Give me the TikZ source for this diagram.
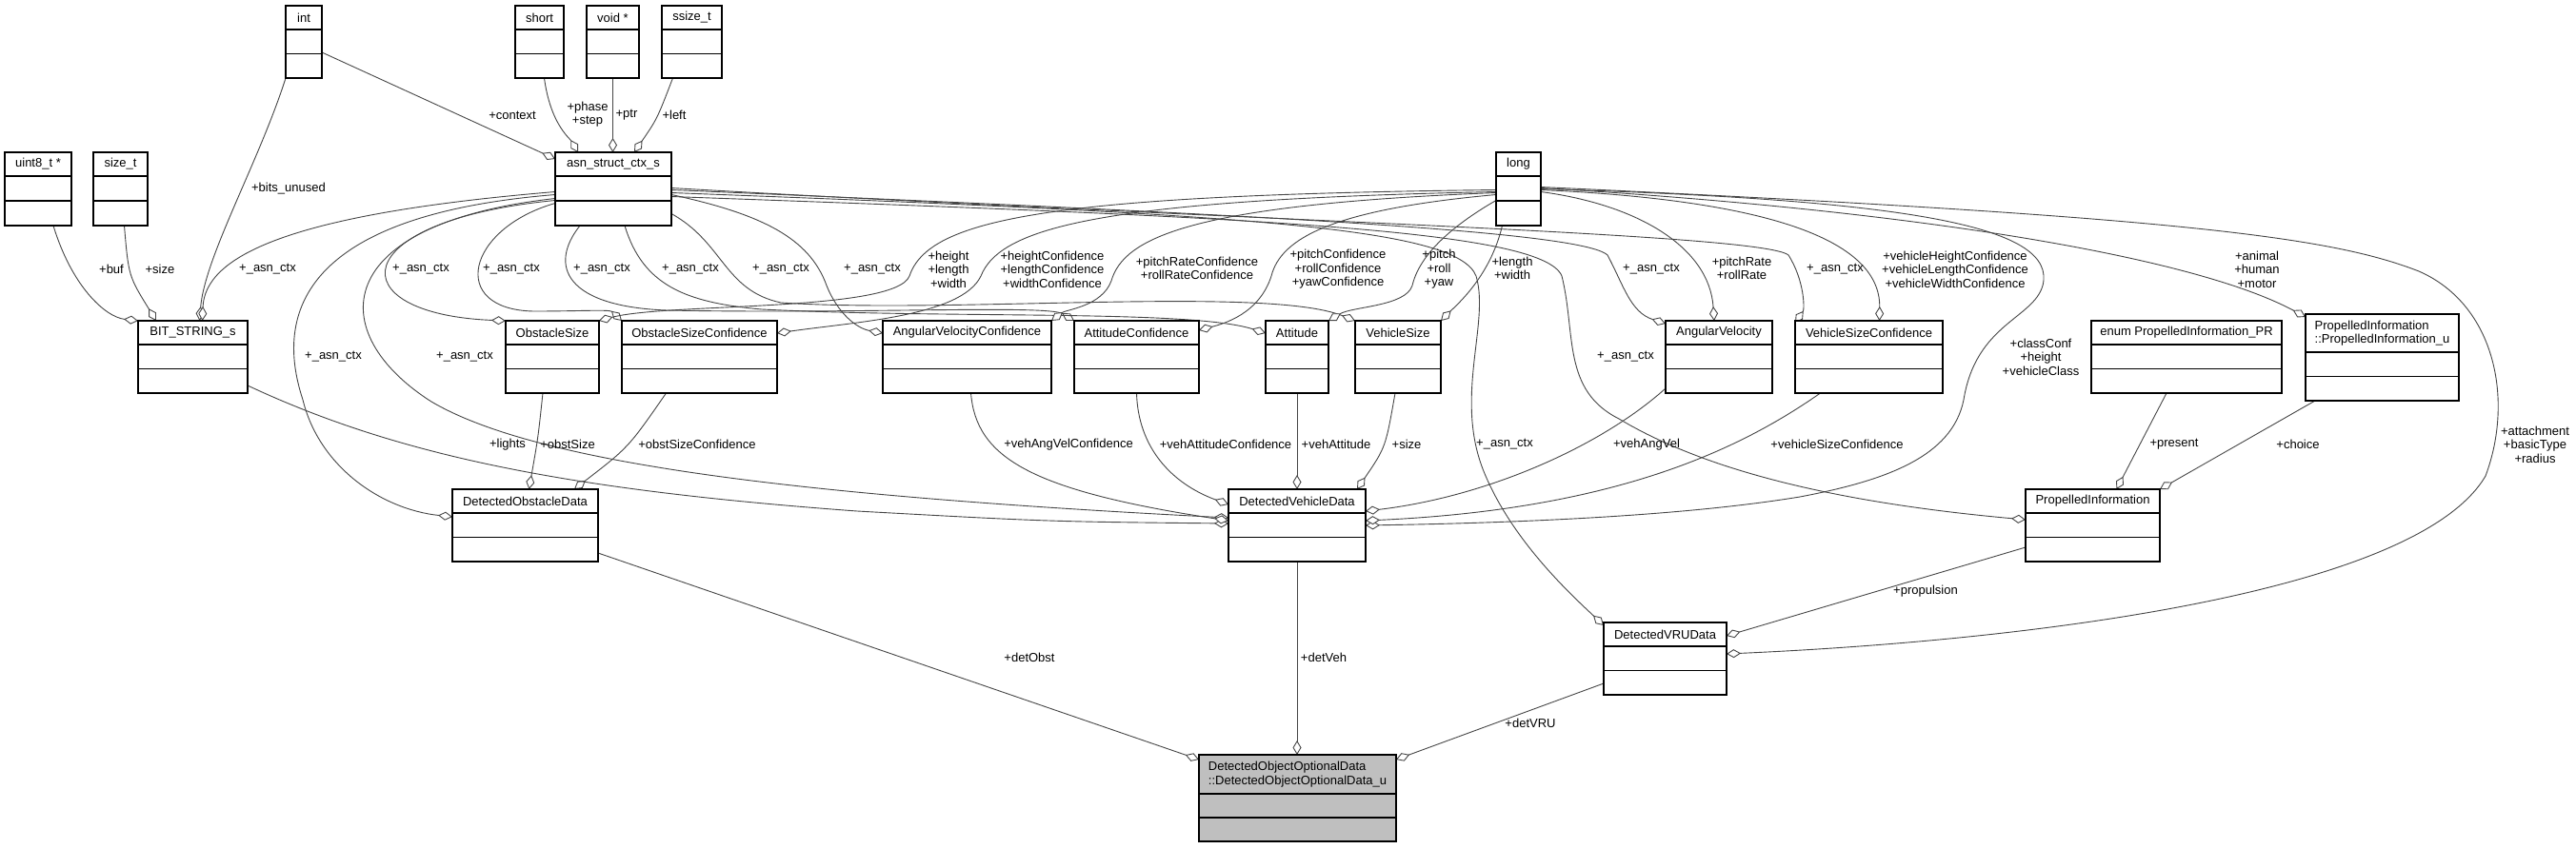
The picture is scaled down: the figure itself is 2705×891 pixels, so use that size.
\documentclass[tikz,border=0pt]{standalone}
\usepackage{fontspec}
\setmainfont{Liberation Sans}
\usetikzlibrary{arrows.meta,calc,backgrounds}

\tikzset{
  classframe/.style={draw=black, line width=1.1pt, fill=white, inner sep=0pt, outer sep=0pt},
  classrule/.style={draw=black, line width=1.1pt},
  classtitle/.style={font=\fontsize{13}{14.5}\selectfont, inner sep=0pt, align=left},
  member/.style={draw=black!72, line width=0.9pt, -{Diamond[fill=white,length=15pt,width=9pt]}},
  lbl/.style={font=\fontsize{13}{14.5}\selectfont, inner sep=0pt, align=center}
}

% class box: [fill] name, x1, y1, x2, y2, title height, title
\newcommand{\umlclass}[8][]{%
  \node[classframe,#1,minimum width={#5-#3},minimum height={#6-#4}] (#2) at ({(#3+#5)/2},{(#4+#6)/2}) {};
  \draw[classrule] (#3,{#4+#7}) -- (#5,{#4+#7});
  \draw[classrule] (#3,{(#4+#7+#6)/2}) -- (#5,{(#4+#7+#6)/2});
  \node[classtitle] (#2-title) at ({(#3+#5)/2},{#4+#7/2}) {#8};
}

\begin{document}
\begin{tikzpicture}[x=1pt,y=-1pt]
    \useasboundingbox (0,0) rectangle (2705,891);

    \umlclass{tint}{300}{6}{338}{82}{25}{int}
    \umlclass{tshort}{541}{6}{592}{82}{25}{short}
    \umlclass{tvoid}{616}{6}{671}{82}{25}{void *}
    \umlclass{tssize}{695}{6}{758}{82}{25}{ssize\_t}
    \umlclass{tuint8}{5}{160}{75}{237}{25}{uint8\_t *}
    \umlclass{tsizet}{98}{160}{155}{237}{25}{size\_t}
    \umlclass{asn}{583}{160}{705}{237}{25}{asn\_struct\_ctx\_s}
    \umlclass{tlong}{1571}{160}{1618}{237}{25}{long}

    \umlclass{bitstr}{145}{337}{260}{413}{25}{BIT\_STRING\_s}
    \umlclass{obsize}{531}{337}{629}{413}{25}{ObstacleSize}
    \umlclass{obsconf}{653}{337}{816}{413}{25}{ObstacleSizeConfidence}
    \umlclass{avconf}{927}{337}{1104}{413}{25}{AngularVelocityConfidence}
    \umlclass{attconf}{1128}{337}{1259}{413}{25}{AttitudeConfidence}
    \umlclass{att}{1329}{337}{1395}{413}{25}{Attitude}
    \umlclass{vsize}{1423}{337}{1513}{413}{25}{VehicleSize}
    \umlclass{angvel}{1749}{337}{1861}{413}{25}{AngularVelocity}
    \umlclass{vsconf}{1885}{337}{2040}{413}{25}{VehicleSizeConfidence}
    \umlclass{penum}{2196}{337}{2396}{413}{25}{enum PropelledInformation\_PR}
    \umlclass{pinfou}{2421}{330}{2582}{421}{40}{PropelledInformation\\::PropelledInformation\_u}

    \umlclass{dod}{475}{514}{628}{590}{25}{DetectedObstacleData}
    \umlclass{dvd}{1290}{514}{1434}{590}{25}{DetectedVehicleData}
    \umlclass{pinfo}{2127}{514}{2268}{590}{25}{PropelledInformation}
    \umlclass{dvru}{1684}{654}{1813}{730}{25}{DetectedVRUData}
    \umlclass[fill=black!25]{dood}{1259}{793}{1466}{884}{41}{DetectedObjectOptionalData\\::DetectedObjectOptionalData\_u}

    \begin{scope}[on background layer]
    \fill[white] (0,0) rectangle (2705,891);

    % members of asn_struct_ctx_s and BIT_STRING_s
    \draw[member] (tint.south west) .. controls (272,170) and (215,270) .. ($(bitstr.north)+(7,0)$);
    \draw[member] ($(tint.east)+(0,11)$) -- ($(asn.north west)+(0,7)$);
    \draw[member] ($(tshort.south)+(5,0)$) .. controls (578,130) and (598,145) .. ($(asn.north west)+(24,0)$);
    \draw[member] (tvoid.south) -- (tvoid.south |- asn.north);
    \draw[member] ($(tssize.south)+(-20,0)$) .. controls (690,125) .. ($(asn.north)+(22,0)$);
    \draw[member] ($(tuint8.south)+(16,0)$) .. controls (75,300) and (110,333) .. (bitstr.north west);
    \draw[member] ($(tsizet.south)+(4,0)$) .. controls (135,290) .. ($(bitstr.north west)+(19,0)$);

    % _asn_ctx
    \draw[member] ($(asn.west)+(0,3)$) .. controls (300,225) and (215,270) .. ($(bitstr.north)+(10,0)$);
    \draw[member] ($(asn.west)+(0,6)$) .. controls (330,225) and (285,320) .. (318,420) .. controls (335,490) and (400,535) .. ($(dod.west)+(0,-9)$);
    \draw[member] ($(asn.west)+(0,10)$) .. controls (345,235) and (340,350) .. (453,422) .. controls (560,485) and (820,520) .. ($(dvd.west)+(0,-8)$);
    \draw[member] ($(asn.west)+(0,12)$) .. controls (360,232) and (355,330) .. (obsize.north west);
    \draw[member] ($(asn.west)+(0,15)$) .. controls (490,240) and (470,325) .. (560,327) .. controls (610,327) and (640,325) .. (obsconf.north west);
    \draw[member] ($(asn.south west)+(26,0)$) .. controls (575,280) and (595,322) .. (700,326) .. controls (900,330) and (1100,320) .. (attconf.north west);
    \draw[member] ($(asn.south west)+(73,0)$) .. controls (675,300) and (720,318) .. (800,325) .. controls (1000,335) and (1250,325) .. ($(att.west)+(0,-25)$);
    \draw[member] ($(asn.east)+(0,26)$) .. controls (760,255) and (760,305) .. (820,318) .. controls (1000,330) and (1330,300) .. (vsize.north west);
    \draw[member] ($(asn.east)+(0,6)$) .. controls (800,225) and (850,250) .. (868,300) .. controls (880,330) and (900,345) .. ($(avconf.west)+(0,-25)$);
    \draw[member] ($(asn.east)+(0,1)$) .. controls (1300,225) and (1660,242) .. (1688,268) .. controls (1705,300) and (1712,328) .. ($(angvel.north west)+(0,3)$);
    \draw[member] ($(asn.east)+(0,-1)$) .. controls (1300,232) and (1850,245) .. (1878,268) .. controls (1895,295) and (1895,325) .. ($(vsconf.north west)+(0,2)$);
    \draw[member] ($(asn.east)+(0,4)$) .. controls (1300,225) and (1530,238) .. (1550,290) .. controls (1565,340) and (1525,420) .. (1560,500) .. controls (1590,570) and (1650,625) .. ($(dvru.north west)+(0,3)$);
    \draw[member] ($(asn.east)+(0,8)$) .. controls (1300,228) and (1620,240) .. (1640,290) .. controls (1655,350) and (1640,410) .. (1700,440) .. controls (1800,500) and (1950,530) .. ($(pinfo.west)+(0,-6)$);

    % members of type long
    \draw[member] ($(tlong.west)+(0,1)$) .. controls (1100,205) and (975,230) .. (955,290) .. controls (940,328) and (700,318) .. (obsize.north east);
    \draw[member] ($(tlong.west)+(0,3)$) .. controls (1150,210) and (1050,240) .. (1030,290) .. controls (1010,332) and (900,338) .. ($(obsconf.east)+(0,-25)$);
    \draw[member] ($(tlong.west)+(0,4)$) .. controls (1250,215) and (1180,250) .. (1167,295) .. controls (1157,322) and (1120,325) .. (avconf.north east);
    \draw[member] ($(tlong.west)+(0,6)$) .. controls (1400,220) and (1345,250) .. (1335,290) .. controls (1322,330) and (1285,340) .. ($(attconf.east)+(0,-28)$);
    \draw[member] ($(tlong.west)+(0,12)$) .. controls (1520,240) and (1490,270) .. (1483,300) .. controls (1476,322) and (1420,322) .. (att.north east);
    \draw[member] ($(tlong.south)+(-17,0)$) .. controls (1565,290) and (1530,320) .. (vsize.north east);
    \draw[member] ($(tlong.east)+(0,3)$) .. controls (1720,215) and (1795,260) .. ($(angvel.north west)+(51,0)$);
    \draw[member] ($(tlong.east)+(0,1)$) .. controls (1850,210) and (1975,250) .. ($(vsconf.north)+(11,0)$);
    \draw[member] (tlong.east) .. controls (2020,210) and (2160,240) .. (2145,300) .. controls (2135,335) and (2075,340) .. (2062,420) .. controls (2050,480) and (1980,505) .. (1890,522) .. controls (1750,545) and (1550,550) .. (dvd.east);
    \draw[member] ($(tlong.east)+(0,-1)$) .. controls (2000,220) and (2300,268) .. ($(pinfou.north west)+(0,3)$);
    \draw[member] ($(tlong.east)+(0,-2)$) .. controls (2300,228) and (2450,250) .. (2540,285) .. controls (2620,320) and (2640,420) .. (2610,500) .. controls (2540,620) and (2150,672) .. ($(dvru.east)+(0,-5)$);

    % second row
    \draw[member] ($(obsize.south)+(-10,0)$) .. controls (565,460) .. ($(dod.north)+(4,0)$);
    \draw[member] ($(obsconf.south)+(-35,0)$) .. controls (660,470) .. ($(dod.north east)+(-25,0)$);
    \draw[member] ($(bitstr.east)+(0,30)$) .. controls (420,480) and (600,515) .. (900,537) .. controls (1100,548) .. ($(dvd.west)+(0,-2)$);
    \draw[member] ($(avconf.south)+(4,0)$) .. controls (1025,480) and (1080,515) .. ($(dvd.west)+(0,-5)$);
    \draw[member] (attconf.south) .. controls (1195,470) and (1230,508) .. ($(dvd.north west)+(0,16)$);
    \draw[member] (att.south) -- (dvd.north);
    \draw[member] ($(vsize.south)+(-3,0)$) .. controls (1455,470) .. ($(dvd.north east)+(-9,0)$);
    \draw[member] ($(angvel.south west)+(0,-5)$) .. controls (1680,470) and (1560,522) .. ($(dvd.east)+(0,-15)$);
    \draw[member] ($(vsconf.south)+(-51,0)$) .. controls (1830,470) and (1700,535) .. ($(dvd.east)+(0,-5)$);
    \draw[member] ($(penum.south)+(-21,0)$) -- ($(pinfo.north)+(25,0)$);
    \draw[member] ($(pinfou.south west)+(10,0)$) -- (pinfo.north east);
    \draw[member] ($(pinfo.west)+(0,23)$) -- ($(dvru.east)+(0,-24)$);

    % union members
    \draw[member] ($(dod.east)+(0,29)$) -- ($(dood.north west)+(0,5)$);
    \draw[member] (dvd.south) -- (dvd.south |- dood.north);
    \draw[member] ($(dvru.west)+(0,26)$) -- ($(dood.north east)+(0,5)$);
    \end{scope}

    \node[lbl] (lbits) at (303,198) {+bits\_unused};
    \node[lbl] (lcontext) at (538,121) {+context};
    \node[lbl] (lphase) at (617,120) {+phase\\+step};
    \node[lbl] (lptr) at (658,121) {+ptr};
    \node[lbl] (lleft) at (708,121) {+left};
    \node[lbl] (lbuf) at (117,283) {+buf};
    \node[lbl] (lsize) at (168,283) {+size};

    \node[lbl] (la1) at (281,283) {+\_asn\_ctx};
    \node[lbl] (la2) at (350,375) {+\_asn\_ctx};
    \node[lbl] (la3) at (488,375) {+\_asn\_ctx};
    \node[lbl] (la4) at (442,283) {+\_asn\_ctx};
    \node[lbl] (la5) at (537,283) {+\_asn\_ctx};
    \node[lbl] (la6) at (632,283) {+\_asn\_ctx};
    \node[lbl] (la7) at (725,283) {+\_asn\_ctx};
    \node[lbl] (la8) at (820,283) {+\_asn\_ctx};
    \node[lbl] (la9) at (916,283) {+\_asn\_ctx};
    \node[lbl] (la10) at (1734,283) {+\_asn\_ctx};
    \node[lbl] (la11) at (1927,283) {+\_asn\_ctx};
    \node[lbl] (la12) at (1707,375) {+\_asn\_ctx};
    \node[lbl] (la13) at (1580,467) {+\_asn\_ctx};

    \node[lbl] (lhgt) at (996,283) {+height\\+length\\+width};
    \node[lbl] (lhgtc) at (1105,283) {+heightConfidence\\+lengthConfidence\\+widthConfidence};
    \node[lbl] (lprc) at (1257,282) {+pitchRateConfidence\\+rollRateConfidence};
    \node[lbl] (lpc) at (1405,283) {+pitchConfidence\\+rollConfidence\\+yawConfidence};
    \node[lbl] (lpry) at (1511,283) {+pitch\\+roll\\+yaw};
    \node[lbl] (llw) at (1588,282) {+length\\+width};
    \node[lbl] (lpr) at (1829,282) {+pitchRate\\+rollRate};
    \node[lbl] (lvhc) at (2053,283) {+vehicleHeightConfidence\\+vehicleLengthConfidence\\+vehicleWidthConfidence};
    \node[lbl] (lahm) at (2370,283) {+animal\\+human\\+motor};
    \node[lbl] (lchv) at (2143,375) {+classConf\\+height\\+vehicleClass};
    \node[lbl] (labr) at (2662,467) {+attachment\\+basicType\\+radius};

    \node[lbl] (lobst) at (596,467) {+obstSize};
    \node[lbl] (lobsc) at (732,467) {+obstSizeConfidence};
    \node[lbl] (llights) at (533,467) {+lights};
    \node[lbl] (lavc) at (1122,467) {+vehAngVelConfidence};
    \node[lbl] (lattc) at (1287,467) {+vehAttitudeConfidence};
    \node[lbl] (latt) at (1403,467) {+vehAttitude};
    \node[lbl] (lsz) at (1477,467) {+size};
    \node[lbl] (lav) at (1729,467) {+vehAngVel};
    \node[lbl] (lvsc) at (1929,467) {+vehicleSizeConfidence};
    \node[lbl] (lpres) at (2283,467) {+present};
    \node[lbl] (lchoice) at (2413,467) {+choice};
    \node[lbl] (lprop) at (2022,621) {+propulsion};

    \node[lbl] (lobstd) at (1081,691) {+detObst};
    \node[lbl] (lveh) at (1390,691) {+detVeh};
    \node[lbl] (lvru) at (1607,760) {+detVRU};
\end{tikzpicture}
\end{document}
